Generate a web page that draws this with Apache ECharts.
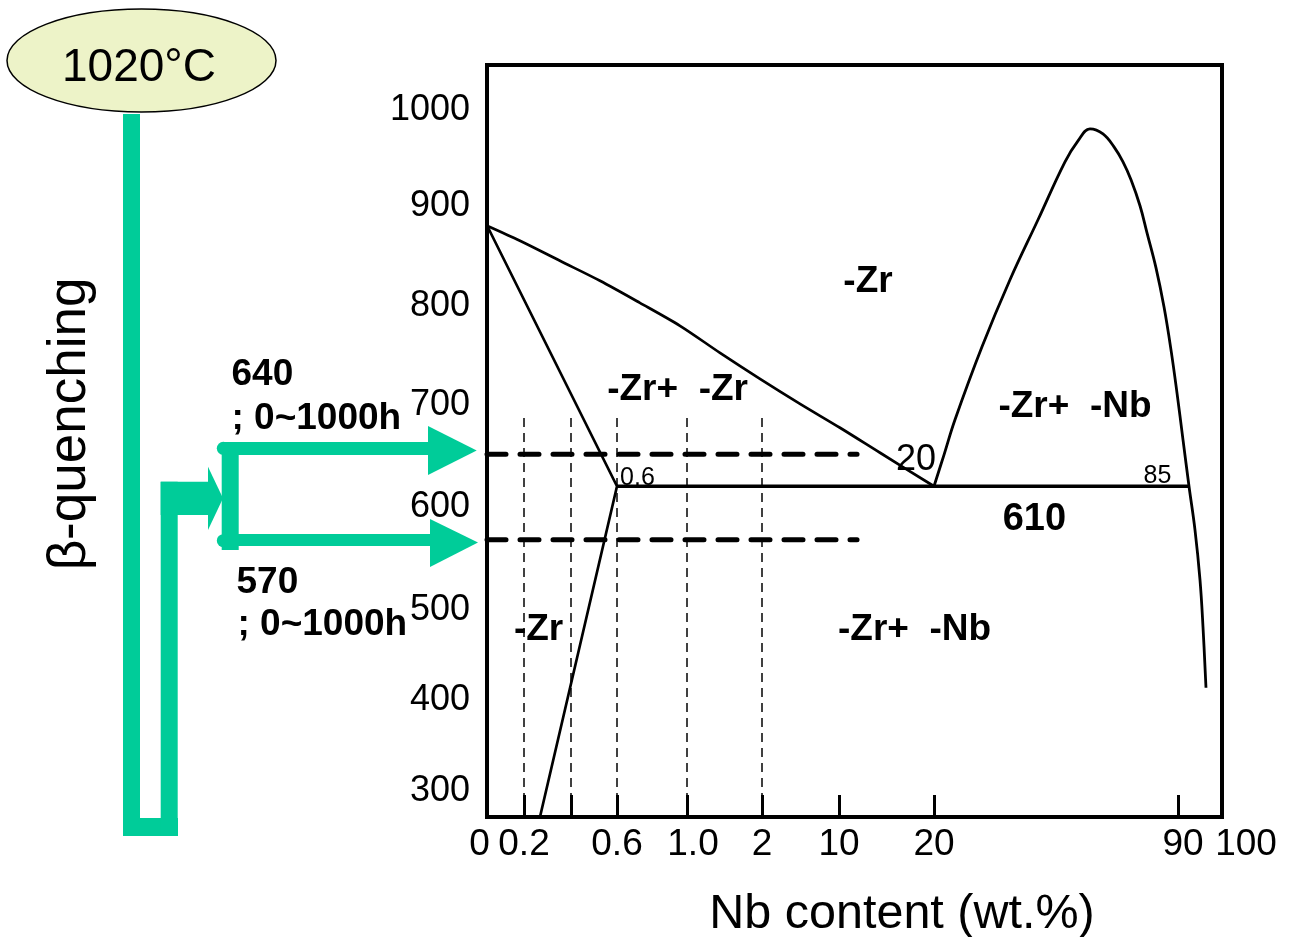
<!DOCTYPE html>
<html>
<head>
<meta charset="utf-8">
<script src="https://cdn.jsdelivr.net/npm/echarts@6/dist/echarts.min.js"></script>
<style>
html,body{margin:0;padding:0;background:#fff;}
#chart{width:1291px;height:937px;}
</style>
</head>
<body>
<div id="chart"></div>
<script>
// ---------- data (Nb content in wt.%, temperature in °C) ----------
// irregular x scale of the figure: Nb anchors and their place along the axis
const NB_ANCHORS = [0, 0.2, 0.4, 0.6, 1.0, 2, 10, 20, 90, 100];
const SCALE_POS  = [0, 37, 84, 130, 200, 275, 352, 447, 691, 735];

const xTickNb     = [0.2, 0.4, 0.6, 1.0, 2, 10, 20, 90];
const xLabelNb    = [0, 0.2, 0.6, 1.0, 2, 10, 20, 90, 100];
const xLabelText  = ['0', '0.2', '0.6', '1.0', '2', '10', '20', '90', '100'];
const yLabelTemps = [300, 400, 500, 600, 700, 800, 900, 1000];

// beta transus (upper boundary of alpha+beta field)
const transusNb = [0, 0.178, 0.353, 0.526, 0.731, 0.96, 1.44, 1.973, 5.95, 10.105, 14.32, 20];
const transusT  = [877.7, 862.3, 841.7, 821.2, 798.5, 774.9, 747.1, 720.4, 694.7, 670.1, 644.4, 610];
// alpha solvus (left boundary)
const solvusNb = [0, 0.6, 0.268];
const solvusT  = [878, 610, 270];
// monotectoid horizontal
const monoNb = [0.6, 92.5];
const monoT  = [610, 610];
// miscibility gap dome
const gapNb = [20, 22.87, 26.02, 33.77, 41.8, 49.84, 57.58, 61.31, 64.75,
               68.48, 71.64, 74.22, 76.52, 79.1, 81.11, 83.69, 85.98, 87.99, 89.71, 91.14, 92.5, 93.86, 95.0, 95.68, 96.36];
const gapT  = [610, 642.3, 678.3, 753.3, 822.2, 883.9, 943.5, 965.1, 977.4,
               972.3, 958.9, 943.5, 925.0, 898.3, 870.5, 834.5, 794.4, 750.2, 706.0, 657.7, 610, 565.2, 513.8, 465.5, 402.8];
// aging temperatures (dashed lines)
const agingT = [643, 555];
const agingStartNb = 0;
const agingEndNb = 11.9;
// alloy compositions (thin dashed verticals)
const alloyNb = [0.2, 0.4, 0.6, 1.0, 2];
const alloyTopT = 685.5;
const axisMinT = 270, axisMaxT = 1043;

// region / point labels
const phaseText = ['-Zr', '-Zr+  -Zr', '-Zr+  -Nb', '-Zr', '-Zr+  -Nb', '610'];
const phaseNb   = [13.05, 0.946, 60.45, 0.262, 17.95, 48.8];
const phaseT    = [822.2, 710.7, 693.7, 465, 465, 577.5];
const noteText  = ['0.6', '20', '85'];
const noteNb    = [0.717, 18.1, 84.1];
const noteT     = [620.7, 638.7, 622.8];

// ---------- scale helper ----------
function pos(nb) {
  if (nb <= NB_ANCHORS[0]) return SCALE_POS[0];
  for (let i = 1; i < NB_ANCHORS.length; i++) {
    if (nb <= NB_ANCHORS[i]) {
      const t = (nb - NB_ANCHORS[i - 1]) / (NB_ANCHORS[i] - NB_ANCHORS[i - 1]);
      return SCALE_POS[i - 1] + t * (SCALE_POS[i] - SCALE_POS[i - 1]);
    }
  }
  return SCALE_POS[SCALE_POS.length - 1];
}
function pairs(nbs, ts) { return nbs.map((n, i) => [pos(n), ts[i]]); }

const FONT = 'Liberation Sans, Arial, Helvetica, sans-serif';
const GREEN = '#00CC99';

const labelPosList = xLabelNb.map(pos);
const XF = 37;
const richX = {
  n:   { fontSize: XF, fontFamily: FONT, color: '#000' },
  l0:  { fontSize: XF, fontFamily: FONT, color: '#000', padding: [0, 15, 0, 0] },
  r12: { fontSize: XF, fontFamily: FONT, color: '#000', padding: [0, 0, 0, 12] },
  r10: { fontSize: XF, fontFamily: FONT, color: '#000', padding: [0, 0, 0, 10] },
  r48: { fontSize: XF, fontFamily: FONT, color: '#000', padding: [0, 0, 0, 48] }
};
const xLabelStyleKey = { '0': 'l0', '1.0': 'r12', '90': 'r10', '100': 'r48' };

// y labels: the printed figure places some labels a little lower
const yShift = { 1000: 3, 900: 2, 800: 5, 700: 6, 600: 11, 500: 17, 400: 10, 300: 3 };
const richY = {};
yLabelTemps.forEach(v => {
  richY['y' + v] = { fontSize: 36, fontFamily: FONT, color: '#000', padding: [2 * yShift[v], 0, 0, 0] };
});

const series = [];
const blackLine = (name, data, width, smooth) => ({
  name, type: 'line', data, symbol: 'none', smooth: smooth || false,
  lineStyle: { color: '#000', width: width }, silent: true, z: 3
});
series.push(blackLine('transus', pairs(transusNb, transusT), 2.7, 0.3));
series.push(blackLine('solvus', pairs(solvusNb, solvusT), 2.7));
series.push(blackLine('monotectoid', pairs(monoNb, monoT), 3.6));
series.push(blackLine('gap', pairs(gapNb, gapT), 2.8, 0.4));

agingT.forEach((t, i) => {
  series.push({
    name: 'aging' + i, type: 'line', symbol: 'none', silent: true, z: 4,
    data: [[pos(agingStartNb), t], [pos(agingEndNb), t]],
    lineStyle: { color: '#000', width: 5, type: [19, 14], cap: 'round' }
  });
});
alloyNb.forEach((nb, i) => {
  series.push({
    name: 'alloy' + i, type: 'line', symbol: 'none', silent: true, z: 2,
    data: [[pos(nb), axisMinT], [pos(nb), alloyTopT]],
    lineStyle: { color: '#000', width: 1.5, type: [9, 6] }
  });
});

series.push({
  name: 'phases', type: 'scatter', symbolSize: 0, silent: true, z: 5,
  itemStyle: { opacity: 1, color: '#000' },
  data: phaseText.map((s, i) => ({
    value: [pos(phaseNb[i]), phaseT[i]], name: s,
    label: { fontSize: s === '610' ? 38 : 37 }
  })),
  label: {
    show: true, position: 'inside', formatter: p => p.name, offset: [0, 2],
    fontFamily: FONT, fontWeight: 'bold', color: '#000', opacity: 1,
    textBorderWidth: 0
  }
});
series.push({
  name: 'notes', type: 'scatter', symbolSize: 0, silent: true, z: 5,
  itemStyle: { opacity: 1, color: '#000' },
  data: noteText.map((s, i) => ({
    value: [pos(noteNb[i]), noteT[i]], name: s,
    label: { fontSize: s === '20' ? 36 : 25 }
  })),
  label: {
    show: true, position: 'inside', formatter: p => p.name, offset: [0, 2],
    fontFamily: FONT, color: '#000', opacity: 1, textBorderWidth: 0
  }
});

const chart = echarts.init(document.getElementById('chart'), null, { renderer: 'canvas' });
chart.setOption({
  animation: false,
  backgroundColor: '#fff',
  grid: {
    left: 487, top: 65, right: 69, bottom: 120,
    containLabel: false, outerBoundsMode: 'none',
    show: true, borderColor: '#000', borderWidth: 4, backgroundColor: 'transparent'
  },
  xAxis: {
    type: 'value', min: SCALE_POS[0], max: SCALE_POS[SCALE_POS.length - 1],
    splitLine: { show: false },
    axisLine: { show: false },
    axisTick: {
      show: true, inside: true, length: 22, customValues: xTickNb.map(pos),
      lineStyle: { color: '#000', width: 3 }
    },
    axisLabel: {
      show: true, customValues: labelPosList, margin: 9,
      formatter: function (v) {
        let best = 0, d = Infinity;
        labelPosList.forEach((p, i) => { if (Math.abs(p - v) < d) { d = Math.abs(p - v); best = i; } });
        const txt = xLabelText[best];
        const key = xLabelStyleKey[txt] || 'n';
        return '{' + key + '|' + txt + '}';
      },
      rich: richX
    },
    name: 'Nb content (wt.%)', nameLocation: 'middle', nameGap: 73,
    nameTextStyle: { fontFamily: FONT, fontSize: 48.5, color: '#000', padding: [0, 0, 0, 95] }
  },
  yAxis: {
    type: 'value', min: axisMinT, max: axisMaxT,
    splitLine: { show: false },
    axisLine: { show: false },
    axisTick: { show: false },
    axisLabel: {
      show: true, customValues: yLabelTemps, margin: 17,
      formatter: v => '{y' + v + '|' + String(v) + '}',
      rich: richY
    }
  },
  series: series,
  graphic: [
    // heat treatment schematic
    { type: 'ellipse', shape: { cx: 141.5, cy: 60.5, rx: 134.5, ry: 51.5 },
      style: { fill: '#EDF3C8', stroke: '#000', lineWidth: 1.5 }, z: 10 },
    { type: 'text', x: 139, y: 68, z: 11,
      style: { text: '1020°C', font: '46px ' + FONT, fill: '#000', textAlign: 'center', textVerticalAlign: 'middle' } },
    { type: 'rect', shape: { x: 123, y: 114, width: 17, height: 722 }, style: { fill: GREEN }, z: 10 },
    { type: 'rect', shape: { x: 123, y: 818, width: 55, height: 18 }, style: { fill: GREEN }, z: 10 },
    { type: 'rect', shape: { x: 160.7, y: 481.7, width: 17, height: 354.3 }, style: { fill: GREEN }, z: 10 },
    { type: 'rect', shape: { x: 160.7, y: 481.7, width: 48, height: 33.3 }, style: { fill: GREEN }, z: 10 },
    { type: 'polygon', shape: { points: [[208, 466.7], [223, 498.3], [208, 530]] }, style: { fill: GREEN }, z: 10 },
    { type: 'rect', shape: { x: 221.7, y: 443, width: 17, height: 107 }, style: { fill: GREEN }, z: 10 },
    { type: 'rect', shape: { x: 222, y: 442, width: 207, height: 13 }, style: { fill: GREEN }, z: 10 },
    { type: 'polygon', shape: { points: [[428, 426], [476.7, 450.5], [428, 475]] }, style: { fill: GREEN }, z: 10 },
    { type: 'rect', shape: { x: 222, y: 534, width: 209, height: 12 }, style: { fill: GREEN }, z: 10 },
    { type: 'polygon', shape: { points: [[430, 519], [478, 542.5], [430, 567]] }, style: { fill: GREEN }, z: 10 },
    { type: 'circle', shape: { cx: 223.3, cy: 448.3, r: 6.5 }, style: { fill: GREEN }, z: 10 },
    { type: 'circle', shape: { cx: 223.3, cy: 540.7, r: 6.5 }, style: { fill: GREEN }, z: 10 },
    { type: 'text', x: 70, y: 424, rotation: Math.PI / 2, z: 11,
      style: { text: 'β-quenching', font: '53px ' + FONT, fill: '#000', textAlign: 'center', textVerticalAlign: 'middle' } },
    { type: 'text', x: 231.5, y: 375, z: 11,
      style: { text: '640', font: 'bold 37px ' + FONT, fill: '#000', textAlign: 'left', textVerticalAlign: 'middle' } },
    { type: 'text', x: 231.5, y: 419, z: 11,
      style: { text: '; 0~1000h', font: 'bold 37px ' + FONT, fill: '#000', textAlign: 'left', textVerticalAlign: 'middle' } },
    { type: 'text', x: 236.5, y: 583, z: 11,
      style: { text: '570', font: 'bold 37px ' + FONT, fill: '#000', textAlign: 'left', textVerticalAlign: 'middle' } },
    { type: 'text', x: 237.5, y: 625, z: 11,
      style: { text: '; 0~1000h', font: 'bold 37px ' + FONT, fill: '#000', textAlign: 'left', textVerticalAlign: 'middle' } }
  ]
});
</script>
</body>
</html>
